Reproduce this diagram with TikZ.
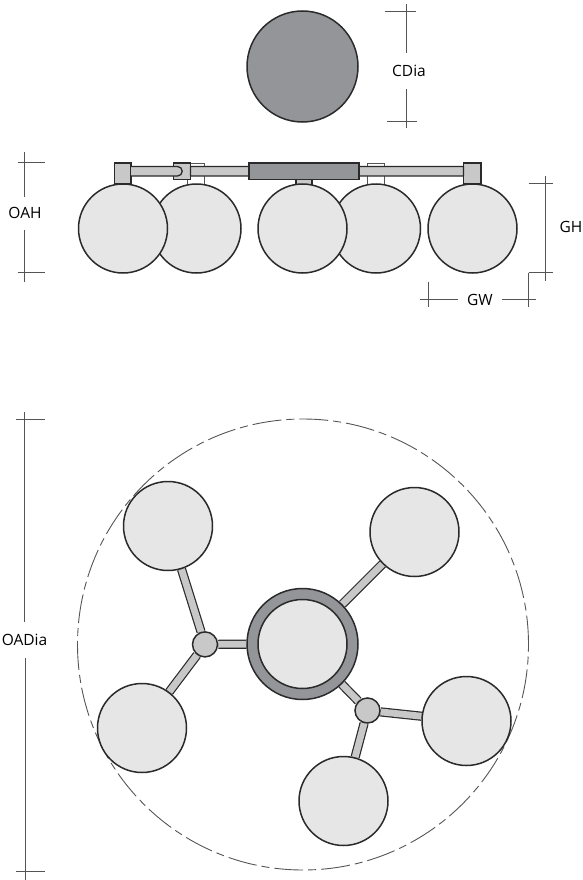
\documentclass[tikz,border=0pt]{standalone}
\usepackage{fontspec}
\setmainfont{Open Sans}
\usetikzlibrary{backgrounds}
\definecolor{lampgrey}{HTML}{E6E6E6}
\definecolor{armgrey}{HTML}{C8C8C8}
\definecolor{canopygrey}{HTML}{939598}
\definecolor{inkdark}{HTML}{2B2A2B}
\definecolor{dimgrey}{HTML}{555555}
\tikzset{
  lamp/.style={circle,draw=inkdark,fill=lampgrey,line width=1.5pt,minimum size=89pt,inner sep=0pt},
  canopy/.style={circle,draw=inkdark,fill=canopygrey,line width=1.5pt,minimum size=111pt,inner sep=0pt},
  hub/.style={circle,draw=inkdark,fill=armgrey,line width=1.5pt,minimum size=25pt,inner sep=0pt},
  rod/.style={draw=inkdark,line width=1.2pt,double=armgrey,double distance=6.8pt},
  bracket/.style={draw=inkdark,fill=armgrey,line width=1.3pt},
  ghostbox/.style={draw=dimgrey,fill=white,line width=0.6pt},
  dimline/.style={draw=dimgrey,line width=1pt},
  outline/.style={draw=dimgrey,line width=0.9pt,dash pattern=on 29pt off 5pt on 8pt off 5pt},
  dimtext/.style={font=\fontsize{15.5}{17}\selectfont,text=black,inner sep=0pt}
}
\begin{document}
\begin{tikzpicture}[x=1pt,y=-1pt]
  \useasboundingbox (0,0) rectangle (582,880);

  % Canopy, seen from the side
  \node[canopy] (topcanopy) at (302.5,66.5) {};

  % Hidden brackets behind the bar
  \draw[ghostbox] (187.7,163) rectangle (204.3,186);
  \draw[ghostbox] (367.5,163) rectangle (384.5,186);
  \draw[bracket] (296,176) rectangle (312,186);

  % Lamps, back row first
  \foreach \name/\xpos in {lampB/196.5,lampD/376}
    \node[lamp] (\name) at (\xpos,228.5) {};
  \foreach \name/\xpos in {lampA/123,lampC/302.5,lampE/472.5}
    \node[lamp] (\name) at (\xpos,228.5) {};

  % Bar and brackets
  \draw[bracket] (114.5,163) rectangle (131,184);
  \draw[bracket] (173.5,163) rectangle (190.5,179.5);
  \draw[bracket] (463.5,163) rectangle (481,184);
  \draw[bracket] (131,166.5) -- (177.5,166.5) arc (-90:90:4.75) -- (131,176);
  \draw[bracket,rounded corners=0.4pt] (190.5,166.5) rectangle (249,176);
  \draw[bracket,rounded corners=0.4pt] (359,166.5) rectangle (463.5,176);
  \draw[bracket,fill=canopygrey] (249,163) rectangle (359,179.5);

  % Plan view
  \node[outline,circle,minimum size=451pt,inner sep=0pt] (reach) at (303,644.5) {};
  \node[canopy] (plancanopy) at (302.5,644) {};
  \node[lamp] (planmid) at (302.5,644) {};
  \node[hub] (hubL) at (205,644.4) {};
  \node[hub] (hubR) at (367.5,710.5) {};
  \node[lamp] (planA) at (168,526) {};
  \node[lamp] (planB) at (414.5,532) {};
  \node[lamp] (planC) at (142,728) {};
  \node[lamp] (planD) at (466.5,721) {};
  \node[lamp] (planE) at (343.5,801) {};

  % Arms
  \begin{pgfonlayer}{background}
    \foreach \from/\to in {hubL/planA,hubL/planC,hubL/plancanopy,plancanopy/planB,plancanopy/hubR,hubR/planD,hubR/planE}
      \draw[rod] (\from) -- (\to);
  \end{pgfonlayer}

  % Dimension end points
  \path (406.5,4) coordinate (cdiaA) (406.5,53) coordinate (cdiaB)
    (406.5,89) coordinate (cdiaC) (406.5,128) coordinate (cdiaD)
    (385,11.7) coordinate (cdiaE) (415.5,11.7) coordinate (cdiaF)
    (387,121.7) coordinate (cdiaG) (417,121.7) coordinate (cdiaH);
  \path (24.5,152) coordinate (oahA) (24.5,197) coordinate (oahB)
    (24.5,230) coordinate (oahC) (24.5,281.7) coordinate (oahD)
    (17.5,162.3) coordinate (oahE) (45,162.3) coordinate (oahF)
    (17.5,272.3) coordinate (oahG) (45,272.3) coordinate (oahH);
  \path (545.3,176) coordinate (ghA) (545.3,280.7) coordinate (ghB)
    (528.7,183.3) coordinate (ghC) (553.3,183.3) coordinate (ghD)
    (528.7,272.7) coordinate (ghE) (553.3,272.7) coordinate (ghF);
  \path (428,281.7) coordinate (gwA) (428,306.7) coordinate (gwB)
    (420,299.7) coordinate (gwC) (458,299.7) coordinate (gwD)
    (502,299.7) coordinate (gwE) (535.7,299.7) coordinate (gwF)
    (528.7,306.7) coordinate (gwG);
  \path (24.7,411.7) coordinate (oadA) (24.7,622) coordinate (oadB)
    (25.7,658) coordinate (oadG) (25.7,880) coordinate (oadH)
    (15.7,419.7) coordinate (oadC) (45,419.7) coordinate (oadD)
    (15.7,871.7) coordinate (oadE) (44.5,871.7) coordinate (oadF);

  % Dimension lines
  \foreach \a/\b in {cdiaA/cdiaB,cdiaC/cdiaD,cdiaE/cdiaF,cdiaG/cdiaH,
                     oahA/oahB,oahC/oahD,oahE/oahF,oahG/oahH,
                     ghA/ghB,ghC/ghD,ghE/ghF,gwA/gwB,gwC/gwD,gwE/gwF,ghE/gwG,
                     oadA/oadB,oadG/oadH,oadC/oadD,oadE/oadF}
    \draw[dimline] (\a) -- (\b);

  % Labels
  \node[dimtext] (cdiaLabel) at (409,71) {CDia};
  \node[dimtext] (oahLabel) at (25,213) {OAH};
  \node[dimtext] (ghLabel) at (571,227) {GH};
  \node[dimtext] (gwLabel) at (480,300) {GW};
  \node[dimtext] (oadLabel) at (24.5,640) {OADia};
\end{tikzpicture}
\end{document}
